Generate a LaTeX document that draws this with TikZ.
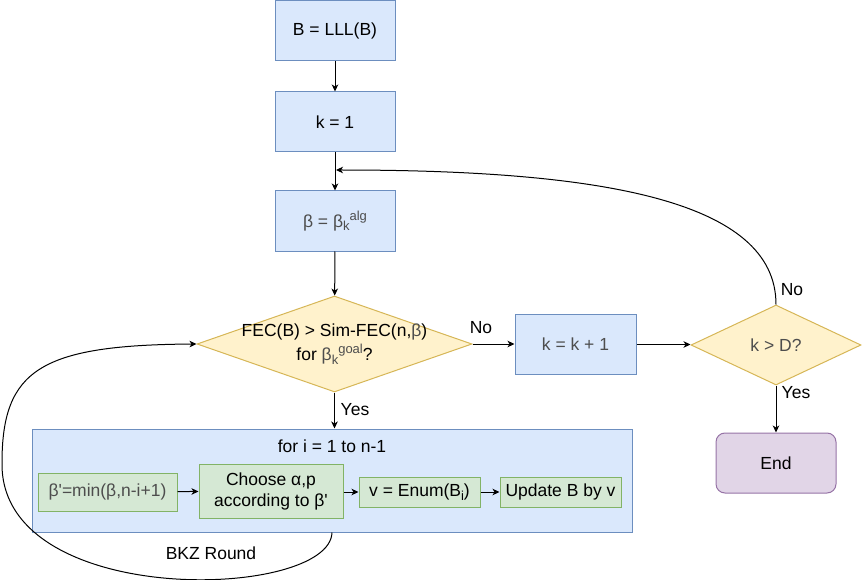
\documentclass[tikz,border=0pt]{standalone}
\usepackage{fontspec}
\setmainfont{Liberation Sans}
\usetikzlibrary{shapes.geometric,arrows.meta}
\definecolor{bfill}{HTML}{DAE8FC}
\definecolor{bline}{HTML}{6C8EBF}
\definecolor{yfill}{HTML}{FFF2CC}
\definecolor{yline}{HTML}{D6B656}
\definecolor{gfill}{HTML}{D5E8D4}
\definecolor{gline}{HTML}{82B366}
\definecolor{pfill}{HTML}{E1D5E7}
\definecolor{pline}{HTML}{9673A6}
\definecolor{tgrey}{HTML}{4D4D4D}
\newcommand{\mysub}[1]{\raisebox{-3.5pt}{\fontsize{13}{13}\selectfont #1}}
\newcommand{\mysup}[1]{\raisebox{7pt}{\fontsize{13}{13}\selectfont #1}}
\newcommand{\sq}{\textquotesingle}
\begin{document}
\begin{tikzpicture}[x=1pt,y=-1pt,
  font=\fontsize{17.5}{21}\selectfont,
  every node/.style={inner sep=0pt},
  bluebox/.style={draw=bline,fill=bfill,line width=1pt},
  greenbox/.style={draw=gline,fill=gfill,line width=1pt,align=center},
  purplebox/.style={draw=pline,fill=pfill,line width=1pt,rounded corners=9pt},
  ydiamond/.style={shape=diamond,draw=yline,fill=yfill,line width=1pt},
  arr/.style={-{Stealth[length=7pt,width=6.5pt,inset=2pt]},line width=1pt,black},
  conn/.style={line width=1pt,black}]
\useasboundingbox (0,0) rectangle (862,580);

% main column
\node[bluebox,minimum width=120pt,minimum height=60pt] (lll) at (335,31) {B = LLL(B)};
\node[bluebox,minimum width=120pt,minimum height=60pt] (k1) at (335,122) {k = 1};
\node[bluebox,minimum width=120pt,minimum height=60pt,text=tgrey] (beta) at (335,221)
  {β = β\mysub{k}\mysup{alg}};
\node[ydiamond,minimum width=275pt,minimum height=96pt] (d1) at (334.5,344) {};
\node[align=center] (d1t) at (d1.center)
  {FEC(B) > Sim-FEC(n,{\color{tgrey}β})\\[3pt]for {\color{tgrey}β\mysub{k}\mysup{goal}}?};

\node[bluebox,minimum width=121pt,minimum height=60pt,text=tgrey] (kk) at (575.5,344.5) {k = k + 1};
\node[ydiamond,minimum width=170pt,minimum height=80pt] (d2) at (776,345) {};
\node[text=tgrey] (d2t) at (d2.center) {k > D?};
\node[purplebox,minimum width=120pt,minimum height=60pt] (endn) at (776,463) {End};

% BKZ round box
\node[bluebox,minimum width=600pt,minimum height=103pt] (loop) at (332,480.5) {};
\node (looptitle) at (332,446) {for i = 1 to n-1};
\node[greenbox,minimum width=139pt,minimum height=38pt,text=tgrey] (bp) at (107.5,492) {β\sq=min(β,n-i+1)};
\node[greenbox,minimum width=144pt,minimum height=54pt] (choose) at (271,491)
  {Choose α,p\\[0pt]according to β\sq};
\node[greenbox,minimum width=121pt,minimum height=30pt] (enum) at (419.5,492) {v = Enum(B\mysub{i})};
\node[greenbox,minimum width=121pt,minimum height=30pt] (upd) at (560.5,492) {Update B by v};

% connectors
\draw[arr] (lll) -- (k1);
\draw[arr] (k1) -- (beta);
\draw[arr] (beta) -- (d1);
\draw[arr] (d1.south) -- (d1.south |- loop.north);
\draw[arr] (d1.east) -- (d1.east -| kk.west);
\draw[arr] (kk.east) -- (kk.east -| d2.west);
\draw[arr] (d2) -- (endn);
\coordinate (ret) at (336,170);
\draw[arr] (d2.north) .. controls (776,200) and (600,170) .. (ret);
\draw[arr] (bp) -- (choose);
\draw[arr] (choose.east |- enum.west) -- (enum.west);
\draw[arr] (enum) -- (upd);
\coordinate (loopleft) at (2,463);
\draw[arr] (loop.south) .. controls (330,600) and (0,610) .. (loopleft)
  .. controls (2,370) and (40,345) .. (d1.west);

% labels
\node (no1) at (481,328) {No};
\node (yes1) at (355,410) {Yes};
\node (no2) at (792,290) {No};
\node (yes2) at (796,393) {Yes};
\node (bkz) at (211,553) {BKZ Round};
\end{tikzpicture}
\end{document}
